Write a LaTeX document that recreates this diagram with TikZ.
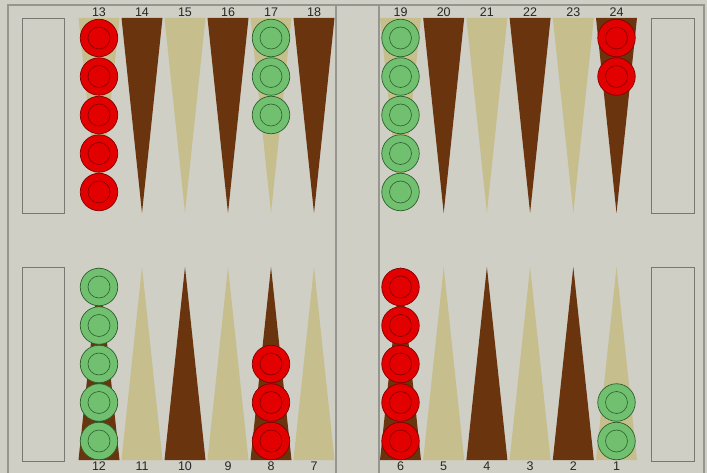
\documentclass[tikz,border=0pt]{standalone}
\usepackage{fontspec}
\setmainfont{Liberation Sans}
\usepackage{tikz}

\definecolor{tablero}{RGB}{207,207,198}
\definecolor{marcogris}{RGB}{150,150,144}
\definecolor{oscuro}{RGB}{106,52,14}
\definecolor{claro}{RGB}{198,190,140}
\definecolor{rojo}{RGB}{226,0,0}
\definecolor{rojoborde}{RGB}{130,0,0}
\definecolor{verde}{RGB}{112,192,112}
\definecolor{verdeborde}{RGB}{45,95,45}

\tikzset{
    marco/.style={draw=marcogris, line width=1.2pt},
    bandeja/.style={draw=marcogris!80!black, line width=0.9pt},
    numero/.style={font=\fontsize{12.5}{13}\selectfont, inner sep=0pt, anchor=base, text=black!85},
    ficharoja/.style={circle, fill=rojo, draw=rojoborde, line width=0.7pt, minimum size=37.5pt, inner sep=0pt},
    fichaverde/.style={circle, fill=verde, draw=verdeborde, line width=0.7pt, minimum size=37.5pt, inner sep=0pt},
    aroroja/.style={draw=rojoborde, line width=0.6pt},
    aroverde/.style={draw=verdeborde, line width=0.6pt}
}

\begin{document}
\begin{tikzpicture}[x=1pt, y=-1pt]
    % Fondo y marco
    \fill[tablero] (0,0) rectangle (707,473);
    \useasboundingbox (0,0) rectangle (707,473);
    \draw[marco] (8,473) -- (8,5) -- (704,5) -- (704,473);
    \draw[marco] (336,5) -- (336,473);
    \draw[marco] (379,5) -- (379,473);

    % Bandejas laterales
    \draw[bandeja] (22,18) rectangle (64,213);
    \draw[bandeja] (22,267) rectangle (64,461);
    \draw[bandeja] (651,18) rectangle (694,213);
    \draw[bandeja] (651,267) rectangle (694,461);

    % Puntas superiores (13-24)
    \foreach \i/\c in {0/claro,1/oscuro,2/claro,3/oscuro,4/claro,5/oscuro} {
        \pgfmathsetmacro{\xa}{99+43*\i}
        \pgfmathsetmacro{\xb}{400.5+43.2*\i}
        \pgfmathtruncatemacro{\na}{13+\i}
        \pgfmathtruncatemacro{\nb}{19+\i}
        \fill[\c] (\xa-20.5,18) -- (\xa+20.5,18) -- (\xa,213) -- cycle;
        \fill[\c] (\xb-20.5,18) -- (\xb+20.5,18) -- (\xb,213) -- cycle;
        \node[numero] (n\na) at (\xa,17) {\na};
        \node[numero] (n\nb) at (\xb,17) {\nb};
    }

    % Puntas inferiores (12-1)
    \foreach \i/\c in {0/oscuro,1/claro,2/oscuro,3/claro,4/oscuro,5/claro} {
        \pgfmathsetmacro{\xa}{99+43*\i}
        \pgfmathsetmacro{\xb}{400.5+43.2*\i}
        \pgfmathtruncatemacro{\na}{12-\i}
        \pgfmathtruncatemacro{\nb}{6-\i}
        \fill[\c] (\xa-20.5,460) -- (\xa+20.5,460) -- (\xa,267) -- cycle;
        \fill[\c] (\xb-20.5,460) -- (\xb+20.5,460) -- (\xb,267) -- cycle;
        \node[numero] (n\na) at (\xa,470.5) {\na};
        \node[numero] (n\nb) at (\xb,470.5) {\nb};
    }

    % Fichas de arriba
    \foreach \p/\x/\k/\col in {13/99/5/roja, 17/271/3/verde, 19/400.5/5/verde, 24/616.5/2/roja} {
        \foreach \j in {1,...,\k} {
            \node[ficha\col] (f\p-\j) at (\x,{38.5*\j-0.5}) {};
            \draw[aro\col] (f\p-\j.center) circle (11);
        }
    }

    % Fichas de abajo
    \foreach \p/\x/\k/\col in {12/99/5/verde, 8/271/3/roja, 6/400.5/5/roja, 1/616.5/2/verde} {
        \foreach \j in {1,...,\k} {
            \node[ficha\col] (f\p-\j) at (\x,{479.5-38.5*\j}) {};
            \draw[aro\col] (f\p-\j.center) circle (11);
        }
    }
\end{tikzpicture}
\end{document}
